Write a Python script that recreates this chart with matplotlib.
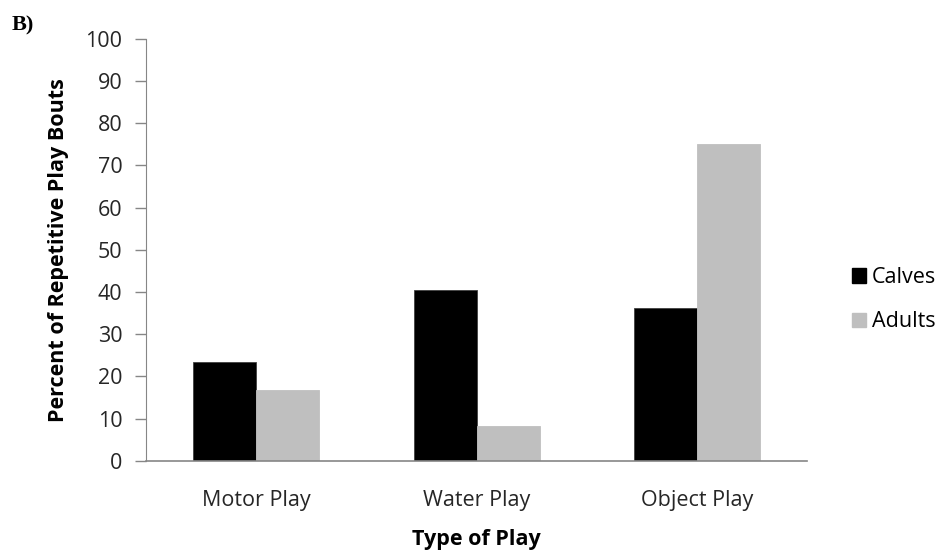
import numpy as np
import matplotlib.pyplot as plt
from matplotlib.patches import Patch

# data
categories = ["Motor Play", "Water Play", "Object Play"]
calves = [23.4, 40.4, 36.1]
adults = [16.7, 8.2, 75.0]

plt.rcParams['font.family'] = ['Open Sans', 'DejaVu Sans']

fig = plt.figure(figsize=(9.42, 5.52), dpi=100)
ax = fig.add_axes([0.155, 0.1654, 0.702, 0.7640])

x = np.arange(len(categories))
w = 0.2857
ax.bar(x - w / 2, calves, w, color='black', edgecolor='#404040', linewidth=0.6, label='Calves')
ax.bar(x + w / 2, adults, w, color='#bfbfbf', edgecolor='#bfbfbf', linewidth=0.6, label='Adults')

ax.set_xlim(-0.5, 2.5)
ax.set_ylim(0, 100)
ax.set_yticks(range(0, 101, 10))
ax.set_xticks(x)
ax.set_xticklabels(categories)

for s in ['top', 'right']:
    ax.spines[s].set_visible(False)
ax.spines['left'].set_color('#868686')
ax.spines['bottom'].set_color('#868686')
ax.spines['bottom'].set_linewidth(1.2)
ax.tick_params(axis='y', colors='#868686', length=8, width=1, labelsize=15.5, labelcolor='#262626', pad=9)
ax.tick_params(axis='x', length=0, labelsize=15.5, labelcolor='#262626', pad=21)

ax.set_ylabel('Percent of Repetitive Play Bouts', fontsize=15.5, fontweight='bold', labelpad=12)
ax.set_xlabel('Type of Play', fontsize=15.5, fontweight='bold', labelpad=13)

handles = [Patch(color='black'), Patch(color='#bfbfbf')]
fig.legend(handles, ['Calves', 'Adults'], loc='center left', bbox_to_anchor=(0.884, 0.457),
           frameon=False, fontsize=15.5, handlelength=0.65, handleheight=0.65,
           handletextpad=0.28, labelspacing=1.08)

fig.text(0.012, 0.945, 'B)', fontsize=16, fontweight='bold', family='Liberation Serif')

fig.savefig("out.png", dpi=100)
